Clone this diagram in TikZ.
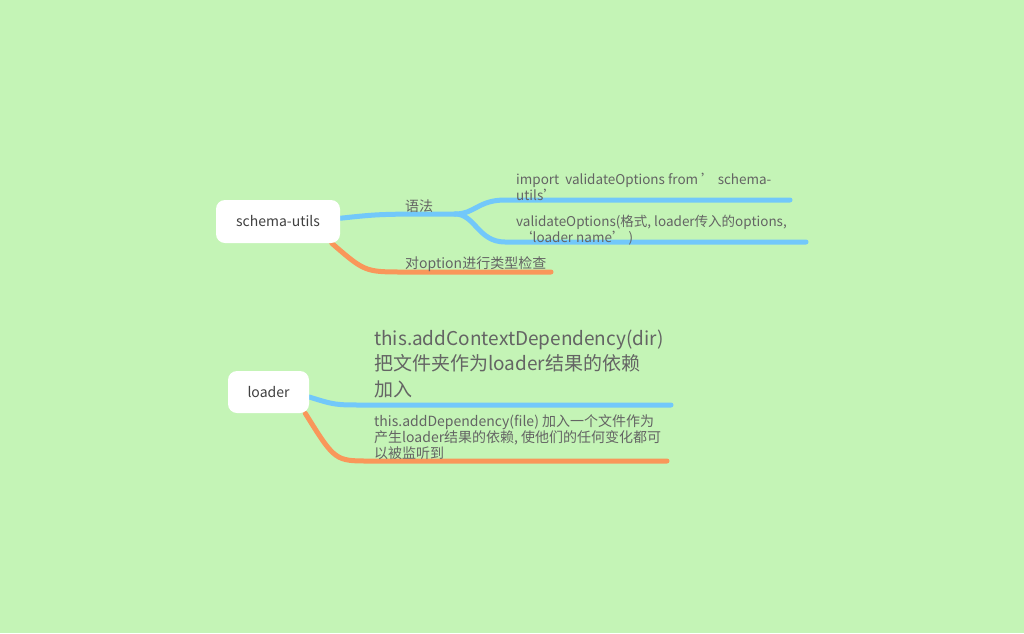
\documentclass[tikz,border=0pt]{standalone}
\usepackage{fontspec}
\setmainfont{Noto Sans CJK SC}
\usetikzlibrary{backgrounds}
\definecolor{bggreen}{RGB}{196,244,182}
\definecolor{brblue}{RGB}{114,200,250}
\definecolor{brorange}{RGB}{249,151,90}
\definecolor{txtgray}{RGB}{100,100,100}
\tikzset{
	topic/.style={fill=white, rounded corners=9pt, minimum height=43pt, inner sep=0pt, font=\fontsize{14}{16}\selectfont, text=black!75},
	bluebr/.style={draw=brblue, line width=5pt, line cap=round},
	orangebr/.style={draw=brorange, line width=5pt, line cap=round},
	lbl/.style={anchor=base west, inner sep=0pt, text=txtgray, align=left},
}
\begin{document}
\begin{tikzpicture}[x=1pt, y=-1pt]

\useasboundingbox (0,0) rectangle (1024,633);

\node[topic, minimum width=124pt] (su) at (278,221.5) {schema-utils};
\node[topic, minimum width=81pt, minimum height=42pt] (ld) at (268.5,392) {loader};

\node[lbl, font=\fontsize{14}{16}\selectfont] (yufa) at (405,211) {语法};
\node[lbl, font=\fontsize{13.5}{14}\selectfont] (imp) at (516,200) {import\ \ validateOptions from ’ schema-\\utils’};
\node[lbl, font=\fontsize{13.5}{14}\selectfont] (val) at (516,242) {validateOptions(格式, loader传入的options,\\\ ‘loader name’ )};
\node[lbl, font=\fontsize{14}{16}\selectfont] (chk) at (405,268) {对option进行类型检查};

\node[lbl, font=\fontsize{19}{25.5}\selectfont] (ctx) at (374,396) {this.addContextDependency(dir)\\把文件夹作为loader结果的依赖\\加入};
\node[lbl, font=\fontsize{14}{13.5}\selectfont] (dep) at (374,458) {this.addDependency(file) 加入一个文件作为\\产生loader结果的依赖, 使他们的任何变化都可\\以被监听到};

\begin{scope}[on background layer]
\fill[bggreen] (0,0) rectangle (1024,633);

% branches of schema-utils
\coordinate (su-split) at (455,214);
\coordinate (su-imp) at (790,200);
\coordinate (su-val) at (806,242);
\coordinate (su-chk) at (551,272);
\draw[bluebr] (su.3) .. controls (380,214) .. (su-split);
\draw[bluebr] (su-split) .. controls (475,214) and (478,200) .. (505,200) -- (su-imp);
\draw[bluebr] (su-split) .. controls (475,214) and (478,242) .. (505,242) -- (su-val);
\draw[orangebr] (su.-22) .. controls (365,272) .. (405,272) -- (su-chk);

% branches of loader
\coordinate (ld-ctx) at (671,405);
\coordinate (ld-dep) at (667,461);
\draw[bluebr] (ld.-7) .. controls (335,405) .. (365,405) -- (ld-ctx);
\draw[orangebr] (ld.-30) .. controls (335,461) .. (370,461) -- (ld-dep);
\end{scope}

\end{tikzpicture}
\end{document}
